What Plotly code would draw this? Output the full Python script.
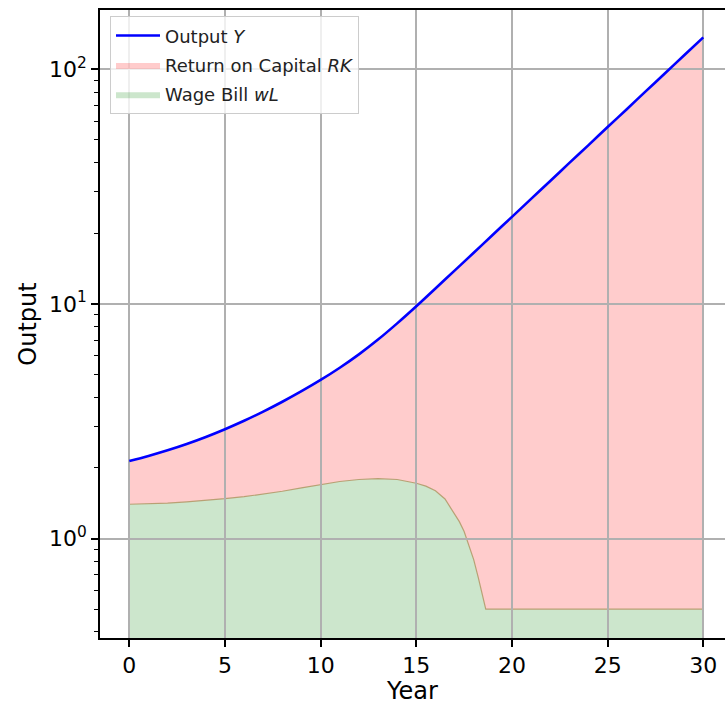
import plotly.graph_objects as go

# ---- data ----
YEARS = list(range(0, 31))
OUTPUT_Y = [2.138, 2.249, 2.377, 2.529, 2.710, 2.924, 3.177, 3.475, 3.828, 4.246,
            4.742, 5.346, 6.095, 7.047, 8.260, 9.772, 11.64, 13.87, 16.52, 19.72,
            23.50, 28.05, 33.42, 39.90, 47.53, 56.75, 67.61, 80.72, 96.16, 114.8, 136.8]

WL_YEARS = [0, 1, 2, 3, 4, 5, 6, 7, 8, 9, 10, 11, 12, 13, 14, 15, 15.5, 16,
            16.5, 16.75, 17, 17.25, 17.5, 17.75, 18, 18.25, 18.5, 18.63, 30]
WAGE_BILL = [1.40, 1.403, 1.415, 1.432, 1.453, 1.478, 1.508, 1.545, 1.59, 1.645,
             1.70, 1.75, 1.785, 1.80, 1.785, 1.72, 1.673, 1.598, 1.474, 1.371,
             1.274, 1.180, 1.072, 0.942, 0.813, 0.676, 0.556, 0.50, 0.50]

FLOOR_X = [0, 30]
FLOOR_Y = [0.05, 0.05]

X_TICKS = [0, 5, 10, 15, 20, 25, 30]
Y_TICKS = [1, 10, 100]
Y_TICK_TEXT = ["10<sup>0</sup>", "10<sup>1</sup>", "10<sup>2</sup>"]
Y_MINOR = [0.4, 0.5, 0.6, 0.7, 0.8, 0.9, 2, 3, 4, 5, 6, 7, 8, 9,
           20, 30, 40, 50, 60, 70, 80, 90]

X_RANGE = [-1.531, 31.134]
Y_RANGE = [-0.424, 2.2528]

FONT = "DejaVu Sans"

fig = go.Figure()

# baseline for the green fill
fig.add_trace(go.Scatter(x=FLOOR_X, y=FLOOR_Y, mode="lines", line=dict(width=0),
                         showlegend=False, hoverinfo="skip", xaxis="x", yaxis="y"))
# wage bill fill
fig.add_trace(go.Scatter(x=WL_YEARS, y=WAGE_BILL, mode="lines", line=dict(width=0),
                         fill="tonexty", fillcolor="rgba(0,128,0,0.2)",
                         name="Wage Bill <i>wL</i>", legendrank=3, legendgroup="c",
                         xaxis="x", yaxis="y"))
# edge line between the fills
fig.add_trace(go.Scatter(x=WL_YEARS, y=WAGE_BILL, mode="lines",
                         line=dict(width=1.2, color="rgba(175,150,100,0.85)"),
                         showlegend=False, hoverinfo="skip", xaxis="x", yaxis="y"))
# return on capital fill
fig.add_trace(go.Scatter(x=YEARS, y=OUTPUT_Y, mode="lines",
                         line=dict(width=0, shape="spline", smoothing=1),
                         fill="tonexty", fillcolor="rgba(255,0,0,0.2)",
                         name="Return on Capital <i>RK</i>", legendrank=2, legendgroup="b",
                         xaxis="x", yaxis="y"))
# output line (on overlay subplot so it sits above the grid)
fig.add_trace(go.Scatter(x=YEARS, y=OUTPUT_Y, mode="lines",
                         line=dict(width=2.6, color="blue", shape="spline", smoothing=1),
                         name="Output <i>Y</i>", legendrank=1, legendgroup="a",
                         xaxis="x2", yaxis="y2"))

common_x = dict(range=X_RANGE, domain=[0, 1])
common_y = dict(type="log", range=Y_RANGE, domain=[0, 1])

fig.update_layout(
    width=725, height=705,
    margin=dict(l=100, r=0, t=10, b=67),
    paper_bgcolor="white",
    plot_bgcolor="rgba(0,0,0,0)",
    font=dict(family=FONT, size=22, color="black"),
    xaxis=dict(**common_x, visible=False, anchor="y", fixedrange=True),
    yaxis=dict(**common_y, visible=False, anchor="x", fixedrange=True),
    xaxis2=dict(**common_x, anchor="y2",
                tickvals=X_TICKS, ticks="outside", ticklen=7, tickwidth=1.6,
                tickcolor="black", showgrid=True, gridcolor="#b0b0b0", gridwidth=1.6,
                showline=True, linecolor="black", linewidth=1.6, mirror=True,
                zeroline=False,
                title=dict(text="Year", font=dict(size=24), standoff=5),
                tickfont=dict(size=22)),
    yaxis2=dict(**common_y, anchor="x2",
                tickvals=Y_TICKS, ticktext=Y_TICK_TEXT, ticks="outside", ticklen=7,
                tickwidth=1.6, tickcolor="black",
                showgrid=True, gridcolor="#b0b0b0", gridwidth=1.6,
                showline=True, linecolor="black", linewidth=1.6,
                zeroline=False,
                minor=dict(tickvals=Y_MINOR, ticks="outside", ticklen=4,
                           tickwidth=1.2, tickcolor="black", showgrid=False),
                title=dict(text="Output", font=dict(size=24), standoff=6),
                tickfont=dict(size=22)),
    legend=dict(x=0.016, y=0.99, xanchor="left", yanchor="top",
                bgcolor="rgba(255,255,255,0.8)", bordercolor="#cccccc", borderwidth=1,
                font=dict(family=FONT, size=18, color="#222222"),
                tracegroupgap=3, itemwidth=44),
    showlegend=True,
)

fig.write_html("out.html")
